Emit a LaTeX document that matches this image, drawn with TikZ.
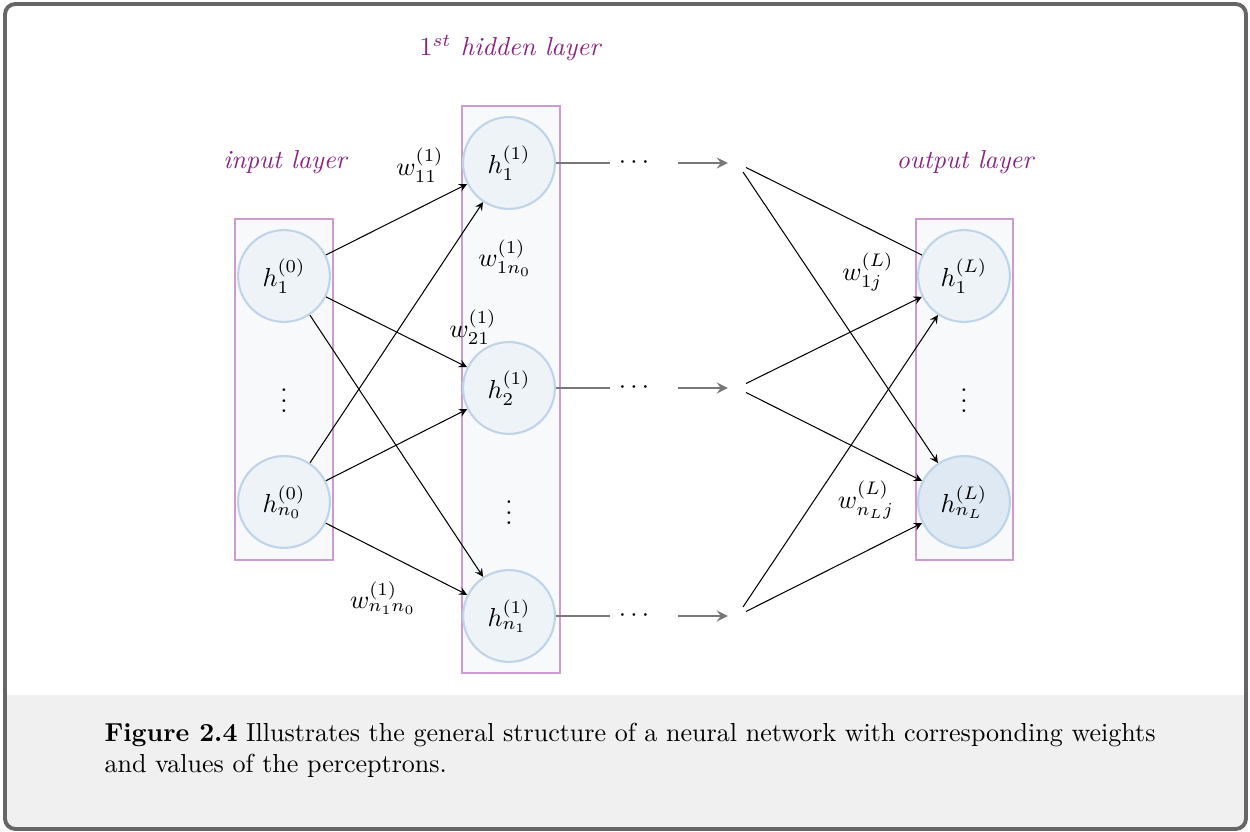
\documentclass[tikz,border=0pt]{standalone}
\usetikzlibrary{arrows,
                positioning}
\definecolor{layerpurple}{RGB}{140,35,130}
\definecolor{layerframe}{RGB}{205,155,210}
\definecolor{layerfill}{RGB}{247,249,251}
\definecolor{neuronfill}{RGB}{238,243,248}
\definecolor{neuronfilldark}{RGB}{222,233,243}
\definecolor{neuronline}{RGB}{190,212,232}
\definecolor{framegray}{RGB}{102,102,102}
\definecolor{captionbg}{RGB}{240,240,240}
\definecolor{passgray}{RGB}{120,120,120}
\tikzset{neuron/.style=
   {circle,
    draw=neuronline,
    line width=0.8pt,
    fill=neuronfill,
    minimum size=1.24cm,
    inner sep=0pt}}
\tikzset{layer/.style={rectangle, draw=layerframe, fill=layerfill, line width=0.4pt}}
\tikzset{layerlabel/.style={text=layerpurple, font=\itshape}}
\tikzset{hub/.style={minimum size=0.23cm, inner sep=0pt}}
\tikzset{arrow/.style = {draw, -stealth}}
\tikzset{pass/.style = {draw=passgray, line width=0.9pt}}

\begin{document}
\begin{tikzpicture}[x=0.0135cm, y=-0.0135cm, auto]
    \useasboundingbox (0,0) rectangle (1250,832);

    % Frame and caption
    \begin{scope}
    \clip[rounded corners=4pt] (5,4) rectangle (1246,829);
    \fill[white] (5,4) rectangle (1246,829);
    \fill[captionbg] (5,695) rectangle (1246,829);
    \end{scope}
    \draw[framegray, line width=1.5pt, rounded corners=4pt] (5,4) rectangle (1246,829);
    \node[anchor=base west, inner sep=0pt] (cap1) at (104,742)
        {\textbf{Figure 2.4} Illustrates the general structure of a neural network with corresponding weights};
    \node[anchor=base west, inner sep=0pt] (cap2) at (104,773)
        {and values of the perceptrons.};

    % Layers
    \draw[layer] (235,219) rectangle (333,560);
    \draw[layer] (462,106) rectangle (560,673);
    \draw[layer] (916,219) rectangle (1013,560);

    % Blocks
    \node[layerlabel] (inlabel) at (285,162) {input layer};
    \node[neuron] (in1) at (284,276) {$h_1^{(0)}$};
    \node (indots) at (284,393) {$\vdots$};
    \node[neuron] (inn) at (284,502) {$h_{n_0}^{(0)}$};

    \node[layerlabel] (hidlabel) at (510,48) {$1^{st}$ hidden layer};
    \node[neuron] (hid1) at (509,163) {$h_1^{(1)}$};
    \node[neuron] (hid2) at (509,388) {$h_2^{(1)}$};
    \node (hiddots) at (509,505) {$\vdots$};
    \node[neuron] (hidn) at (509,616) {$h_{n_1}^{(1)}$};

    \node[layerlabel] (outlabel) at (965,162) {output layer};
    \node[neuron] (out1) at (964,276) {$h_1^{(L)}$};
    \node (outdots) at (964,393) {$\vdots$};
    \node[neuron, fill=neuronfilldark] (outn) at (964,502) {$h_{n_L}^{(L)}$};

    \foreach \i/\y in {1/163, 2/388, n/616} {
        \node (dots\i) at (634,\y) {$\cdots$};
        \node[hub] (hub\i) at (737,\y) {};
    }

    % Draw edges
    \foreach \i in {1,2,n} {
        \path[pass] (hid\i) -- (dots\i);
        \path[pass, -stealth, shorten <=7.5pt] (dots\i) -- (hub\i);
    }

    \foreach \s in {in1,inn}
        \foreach \t in {hid1,hid2,hidn}
            \path[arrow] (\s) -- (\t);

    \path[draw] (hub1) -- (out1);
    \foreach \s/\t in {hub1/outn, hub2/out1, hub2/outn, hubn/out1, hubn/outn}
        \path[arrow] (\s) -- (\t);

    % Weights
    \node (w11) at (420,165) {$w_{11}^{(1)}$};
    \node (w1n0) at (505,258) {$w_{1n_0}^{(1)}$};
    \node (w21) at (473,327) {$w_{21}^{(1)}$};
    \node (wn1n0) at (383,598) {$w_{n_1n_0}^{(1)}$};
    \node (w1j) at (868,272) {$w_{1j}^{(L)}$};
    \node (wnLj) at (866,500) {$w_{n_Lj}^{(L)}$};

\end{tikzpicture}
\end{document}
